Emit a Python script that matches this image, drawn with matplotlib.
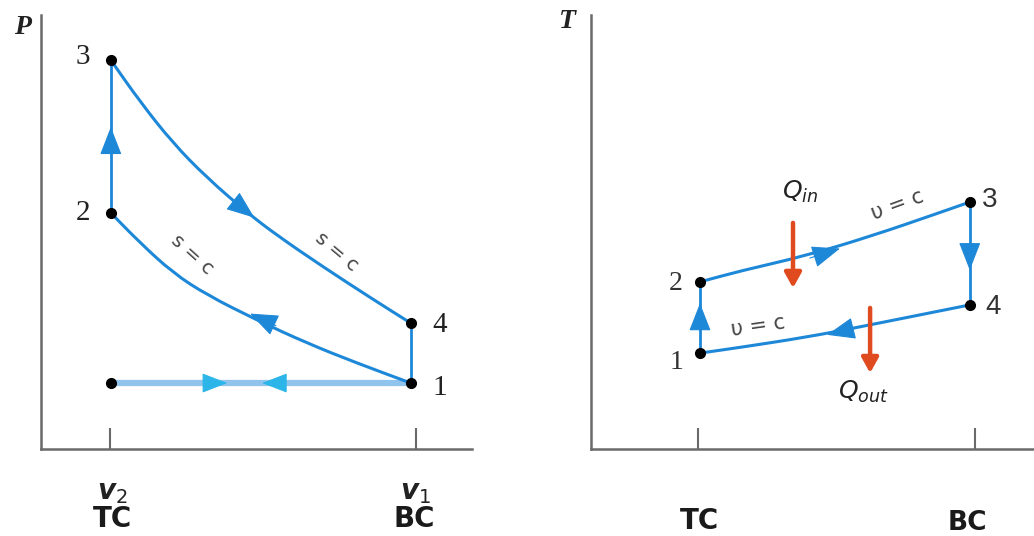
import matplotlib.pyplot as plt
from matplotlib.path import Path
from matplotlib.patches import PathPatch

# ---- P-v diagram (schematic units) ----
v_ticks = [1.60, 8.70]          # v2 (TC) and v1 (BC) tick marks
v2, v1 = 1.62, 8.58             # cycle volumes
p1, p2, p3, p4 = 1.52, 5.44, 8.96, 2.90

# expansion 3 -> 4 (s = c)
exp_v = [1.62, 2.30, 3.06, 3.85, 4.78, 5.48, 6.54, 7.70, 8.58]
exp_p = [8.96, 8.00, 7.05, 6.25, 5.45, 4.92, 4.20, 3.45, 2.90]
# compression 1 -> 2 (s = c), listed from 2 to 1
cmp_v = [1.62, 2.30, 3.06, 3.85, 5.01, 6.17, 7.33, 8.58]
cmp_p = [5.44, 4.75, 4.06, 3.55, 2.97, 2.44, 1.98, 1.52]

# ---- T-s diagram (schematic units) ----
s_ticks = [2.42, 8.67]
s_lo, s_hi = 2.46, 8.55
t1, t2, t3, t4 = 2.21, 3.85, 5.69, 3.32
# heat addition 2 -> 3 (v = c)
heat_s = [2.46, 3.36, 4.88, 6.37, 7.88, 8.55]
heat_t = [3.85, 4.10, 4.46, 4.92, 5.45, 5.69]
# heat rejection 4 -> 1 (v = c), listed from 1 to 4
rej_s = [2.46, 3.36, 4.88, 6.00, 7.13, 8.55]
rej_t = [2.21, 2.34, 2.58, 2.80, 3.03, 3.32]

blue = '#1e88d8'
light = '#90c4ec'
cyan = '#2bb5e8'
red = '#e04a1f'
axis_grey = '#6a6a6a'

plt.rcParams['mathtext.fontset'] = 'dejavusans'


def smooth(ax, xs, ys, color=blue, lw=2.2):
    # quadratic bezier through the midpoints, read points used as controls
    pts = list(zip(xs, ys))
    verts = [pts[0]]
    codes = [Path.MOVETO]
    mid = ((pts[0][0] + pts[1][0]) / 2, (pts[0][1] + pts[1][1]) / 2)
    verts.append(mid)
    codes.append(Path.LINETO)
    for i in range(1, len(pts) - 1):
        nxt = ((pts[i][0] + pts[i + 1][0]) / 2, (pts[i][1] + pts[i + 1][1]) / 2)
        verts += [pts[i], nxt]
        codes += [Path.CURVE3, Path.CURVE3]
    verts.append(pts[-1])
    codes.append(Path.LINETO)
    ax.add_patch(PathPatch(Path(verts, codes), fill=False, edgecolor=color,
                           lw=lw, zorder=3, capstyle='round'))


def head(ax, tip, base, color=blue, scale=20):
    # draws only an arrow head pointing from base to tip
    ax.annotate('', xy=tip, xytext=base,
                arrowprops=dict(arrowstyle='-|>,head_length=0.9,head_width=0.35',
                                color=color, lw=0.8, mutation_scale=scale,
                                shrinkA=0, shrinkB=0), zorder=4)


def setup(ax, ticks):
    ax.set_xlim(0, 10)
    ax.set_ylim(0, 10)
    for side in ['top', 'right']:
        ax.spines[side].set_visible(False)
    for side in ['left', 'bottom']:
        ax.spines[side].set_color(axis_grey)
        ax.spines[side].set_linewidth(1.8)
    ax.set_xticks(ticks)
    ax.set_yticks([])
    ax.tick_params(axis='x', direction='in', length=15, width=1.5,
                   color=axis_grey, labelbottom=False)


fig = plt.figure(figsize=(10.34, 5.36), dpi=100)
ax1 = fig.add_axes([41 / 1034, 87 / 536, 431 / 1034, 434 / 536])
ax2 = fig.add_axes([591 / 1034, 87 / 536, 443 / 1034, 434 / 536])
setup(ax1, v_ticks)
setup(ax2, s_ticks)

# ---------- left: P-v ----------
ax1.plot([v2, v1], [p1, p1], color=light, lw=4.5, solid_capstyle='butt', zorder=2)
head(ax1, (4.32, p1), (3.87, p1), color=cyan, scale=18)
head(ax1, (5.13, p1), (5.55, p1), color=cyan, scale=18)
ax1.plot([v2, v2], [p2, p3], color=blue, lw=2.0, zorder=3)
ax1.plot([v1, v1], [p1, p4], color=blue, lw=2.0, zorder=3)
smooth(ax1, exp_v, exp_p)
smooth(ax1, cmp_v, cmp_p)
head(ax1, (v2, 7.42), (v2, 6.84))
head(ax1, (4.95, 5.33), (4.45, 5.72))
head(ax1, (4.85, 3.12), (5.45, 2.84))
ax1.plot([v2, v2, v2, v1, v1], [p1, p2, p3, p4, p1], 'o', color='k', ms=7,
         zorder=5, linestyle='none')

for txt, x, y in [('3', 0.97, 9.03), ('2', 0.97, 5.44), ('4', 9.26, 2.86), ('1', 9.26, 1.41)]:
    ax1.text(x, y, txt, fontsize=21, family='Liberation Serif', color='#222',
             ha='center', va='center')
ax1.text(6.87, 4.54, 's = c', fontsize=14, color='#444', rotation=-40,
         ha='center', va='center', family='DejaVu Sans')
ax1.text(3.50, 4.47, 's = c', fontsize=14, color='#444', rotation=-42,
         ha='center', va='center', family='DejaVu Sans')
ax1.text(-0.44, 9.72, 'P', fontsize=20, family='Liberation Serif', style='italic',
         weight='bold', color='#222', ha='center', va='center', clip_on=False)
ax1.text(1.65, -0.99, r'$\mathbfit{v}_{\mathit{2}}$', fontsize=20, ha='center',
         va='center', color='#222', clip_on=False)
ax1.text(8.70, -0.99, r'$\mathbfit{v}_{\mathit{1}}$', fontsize=20, ha='center',
         va='center', color='#222', clip_on=False)
ax1.text(1.65, -1.62, 'TC', fontsize=20, weight='bold', ha='center', va='center',
         color='#1a1a1a', clip_on=False)
ax1.text(8.67, -1.62, 'BC', fontsize=20, weight='bold', ha='center', va='center',
         color='#1a1a1a', clip_on=False)

# ---------- right: T-s ----------
ax2.plot([s_lo, s_lo], [t1, t2], color=blue, lw=2.0, zorder=3)
ax2.plot([s_hi, s_hi], [t4, t3], color=blue, lw=2.0, zorder=3)
smooth(ax2, heat_s, heat_t)
smooth(ax2, rej_s, rej_t)
head(ax2, (s_lo, 3.36), (s_lo, 2.74))
head(ax2, (s_hi, 4.12), (s_hi, 4.75))
head(ax2, (5.62, 4.62), (4.94, 4.40))
head(ax2, (5.33, 2.63), (6.00, 2.80))
ax2.plot([s_lo, s_lo, s_hi, s_hi], [t1, t2, t3, t4], 'o', color='k', ms=7,
         zorder=5, linestyle='none')

for x0, y0, y1 in [(4.56, 5.21, 3.71), (6.30, 3.25, 1.75)]:
    ax2.annotate('', xy=(x0, y1), xytext=(x0, y0),
                 arrowprops=dict(arrowstyle='-|>,head_length=0.45,head_width=0.25',
                                 color=red, lw=3.2, mutation_scale=20,
                                 shrinkA=0, shrinkB=0), zorder=6)
ax2.text(4.72, 5.92, r'$Q_{in}$', fontsize=18, color='#222', ha='center', va='center')
ax2.text(6.16, 1.31, r'$Q_{out}$', fontsize=18, color='#222', ha='center', va='center')
ax2.text(6.91, 5.62, 'υ = c', fontsize=15, color='#444', rotation=20,
         ha='center', va='center')
ax2.text(3.77, 2.83, 'υ = c', fontsize=15, color='#444', rotation=8,
         ha='center', va='center')

for txt, x, y, fam in [('2', 1.92, 3.82, 'Liberation Serif'), ('1', 1.92, 2.00, 'Liberation Serif'),
                       ('3', 9.00, 5.74, 'Liberation Sans'), ('4', 9.07, 3.27, 'Liberation Sans')]:
    ax2.text(x, y, txt, fontsize=20, family=fam, color='#333', ha='center', va='center')
ax2.text(-0.52, 9.84, 'T', fontsize=20, family='Liberation Serif', style='italic',
         weight='bold', color='#222', ha='center', va='center', clip_on=False)
ax2.text(2.46, -1.66, 'TC', fontsize=20, weight='bold', ha='center', va='center',
         color='#1a1a1a', clip_on=False)
ax2.text(8.49, -1.70, 'BC', fontsize=19, weight='bold', ha='center', va='center',
         color='#1a1a1a', clip_on=False)

fig.savefig('out.png', dpi=100)
